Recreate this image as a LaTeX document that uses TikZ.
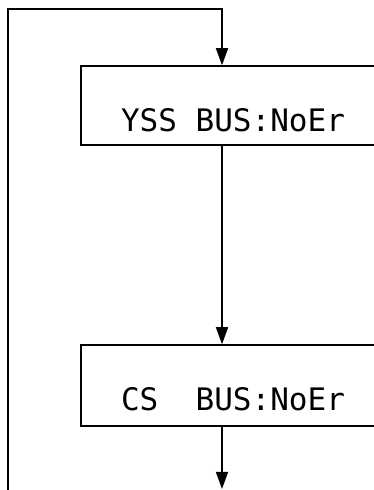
\documentclass[tikz,border=0pt]{standalone}
\usepackage{fontspec}
\newfontfamily\lcdfont{DejaVu Sans Mono}
\usepackage{tikz}
\usetikzlibrary{arrows.meta,positioning,calc}

\begin{document}
\begin{tikzpicture}[x=1pt,y=1pt,line width=1.5pt,>={Triangle[length=17pt,width=12pt]},
  lcdbox/.style={draw,minimum width=304pt,inner sep=0pt,text depth=0pt,font=\lcdfont\fontsize{31}{31}\selectfont}]
  \useasboundingbox (0,0) rectangle (373,490);
  \node[lcdbox,minimum height=79pt,text height=53pt] (yss) at (233,384.5) {YSS BUS:NoEr};
  \node[lcdbox,minimum height=81pt,text height=51pt] (cs) at (233,104.5) {CS\ \ BUS:NoEr};
  \coordinate (back) at (8,0);
  \coordinate (fork) at (222,481);
  \coordinate (out) at (222,1);
  \draw[->](back)|-(fork)--(fork|-yss.north);
  \draw[->](fork|-yss.south)--(fork|-cs.north);
  \draw[->](fork|-cs.south)--(out);
\end{tikzpicture}
\end{document}
